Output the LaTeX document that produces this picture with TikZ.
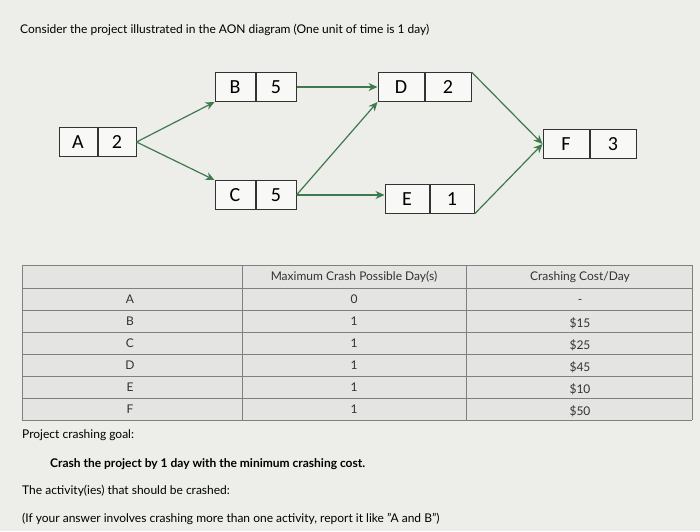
\documentclass[tikz,border=0pt]{standalone}
\usepackage{fontspec}
\setmainfont{Lato}
\newfontfamily\boxf{Carlito}
\usetikzlibrary{arrows.meta}
\definecolor{bg}{HTML}{EDEDEA}
\definecolor{edge}{HTML}{3E7A4E}
\definecolor{tbl}{HTML}{E4E4E2}
\begin{document}
\begin{tikzpicture}[x=1pt,y=-1pt,
  cell/.style={draw=black!80,line width=1pt,fill=white!60!bg,minimum height=29pt,font=\boxf\fontsize{20}{20}\selectfont,inner sep=0pt},
  con/.style={draw=edge,line width=1.2pt,-{Stealth[length=9pt,width=8pt]}},
  t/.style={font=\fontsize{12}{14}\selectfont,anchor=west,inner sep=0pt},
  tc/.style={font=\fontsize{12}{14}\selectfont,text=black!80,inner sep=0pt}]
\useasboundingbox (0,0) rectangle (700,531);
\fill[bg] (0,0) rectangle (700,531);
\node[t] (title) at (20,30) {Consider the project illustrated in the AON diagram (One unit of time is 1 day)};
\newcommand{\actbox}[6]{%
  \node[cell,minimum width=#4pt] (#1l) at (#2,#3) {#5};
  \node[cell,minimum width=#4pt,anchor=west] (#1r) at (#1l.east) {#6};
  \coordinate (#1W) at (#1l.west); \coordinate (#1E) at (#1r.east);}
\actbox{A}{78}{142}{38}{A}{2}
\actbox{B}{235}{87}{40}{B}{5}
\actbox{D}{401}{87}{46}{D}{2}
\actbox{F}{566}{144}{46}{F}{3}
\actbox{C}{235}{195}{40}{C}{5}
\actbox{E}{407}{199}{44}{E}{1}
\draw[con] (AE) -- (Bl.south west);
\draw[con] (AE) -- (Cl.north west);
\draw[con] (BE) -- (DW);
\draw[con] (CE) -- (Dl.south west);
\draw[con] (CE) -- (El.west |- CE);
\draw[con] (Dr.north east) -- (FW);
\draw[con] (Er.south east) -- (FW);
\fill[tbl] (22,265) rectangle (692,420);
\foreach \y in {265,288,310,332,354,376,398,420} \draw[black!50,line width=0.9pt] (22,\y) -- (692,\y);
\foreach \x in {22,242,466,692} \draw[black!50,line width=0.9pt] (\x,265) -- (\x,420);
\node[tc] (h2) at (354,277) {Maximum Crash Possible Day(s)};
\node[tc] (h3) at (580,277) {Crashing Cost/Day};
\foreach \n/\a/\b/\c [count=\i] in {rA/A/0/-,rB/B/1/\$15,rC/C/1/\$25,rD/D/1/\$45,rE/E/1/\$10,rF/F/1/\$50}{
  \node[tc] (\n1) at (130,{288+22*(\i-1)+11}) {\a};
  \node[tc] (\n2) at (354,{288+22*(\i-1)+11}) {\b};
  \node[tc] (\n3) at (580,{288+22*(\i-1)+13}) {\c};}
\node[t] (goal) at (22,435) {Project crashing goal:};
\node[t,font=\bfseries\fontsize{12}{14}\selectfont] (crash) at (50,464) {Crash the project by 1 day with the minimum crashing cost.};
\node[t] (act) at (22,491) {The activity(ies) that should be crashed:};
\node[t] (note) at (22,519) {(If your answer involves crashing more than one activity, report it like "A and B")};
\end{tikzpicture}
\end{document}
